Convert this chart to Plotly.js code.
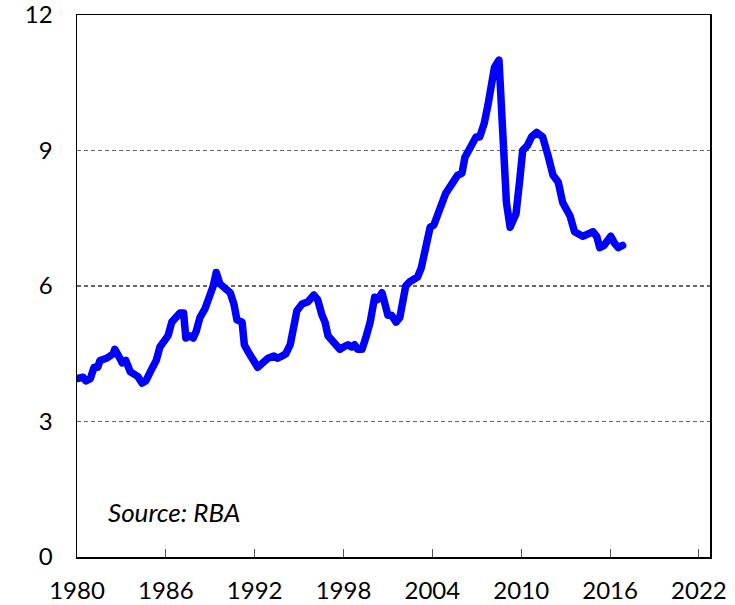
<!DOCTYPE html>
<html>
<head>
<meta charset="utf-8">
<script src="https://cdn.plot.ly/plotly-3.0.1.min.js"></script>
<style>html,body{margin:0;padding:0;background:#fff;}#chart{width:735px;height:605px;}
#chart .scatterlayer path.js-line{stroke-linejoin:round;stroke-linecap:round;}</style>
</head>
<body>
<div id="chart"></div>
<script>
var years = [1980.0,1980.4,1980.6,1980.9,1981.15,1981.4,1981.55,1982.0,1982.45,1982.55,1982.9,1983.05,1983.3,1983.6,1983.85,1984.1,1984.4,1984.65,1984.95,1985.35,1985.6,1985.9,1986.15,1986.4,1986.7,1986.95,1987.2,1987.35,1987.6,1987.85,1988.05,1988.3,1988.65,1988.9,1989.2,1989.4,1989.65,1990.0,1990.35,1990.6,1990.8,1991.15,1991.3,1991.55,1991.95,1992.2,1992.55,1992.9,1993.3,1993.55,1993.85,1994.1,1994.4,1994.65,1994.85,1995.2,1995.6,1996.0,1996.25,1996.55,1996.75,1996.95,1997.3,1997.55,1997.75,1998.0,1998.3,1998.55,1998.75,1998.95,1999.25,1999.5,1999.8,2000.1,2000.3,2000.6,2000.8,2001.0,2001.25,2001.55,2001.8,2002.0,2002.2,2002.5,2002.75,2003.0,2003.25,2003.5,2003.85,2004.1,2004.4,2004.65,2004.9,2005.2,2005.45,2005.7,2006.0,2006.2,2006.45,2006.75,2006.95,2007.2,2007.5,2007.75,2008.0,2008.2,2008.5,2008.75,2009.0,2009.25,2009.65,2009.9,2010.1,2010.4,2010.7,2011.05,2011.45,2011.8,2012.15,2012.5,2012.8,2013.3,2013.6,2014.15,2014.85,2015.1,2015.3,2015.6,2015.85,2016.05,2016.3,2016.55,2016.85];
var values = [3.95,3.98,3.9,3.95,4.2,4.2,4.35,4.4,4.5,4.6,4.4,4.3,4.35,4.1,4.05,4.0,3.85,3.9,4.1,4.35,4.65,4.8,4.9,5.2,5.3,5.4,5.4,4.85,4.9,4.85,5.0,5.3,5.5,5.7,6.0,6.3,6.05,5.95,5.85,5.6,5.25,5.2,4.7,4.55,4.3,4.2,4.3,4.4,4.45,4.4,4.45,4.5,4.7,5.1,5.45,5.6,5.65,5.8,5.7,5.35,5.2,4.9,4.75,4.65,4.6,4.65,4.7,4.65,4.7,4.6,4.6,4.85,5.2,5.75,5.7,5.85,5.55,5.35,5.35,5.2,5.3,5.8,6.0,6.1,6.15,6.2,6.4,6.8,7.3,7.35,7.65,7.8,8.05,8.2,8.3,8.45,8.5,8.85,9.0,9.15,9.3,9.3,9.6,10.0,10.5,10.85,11.0,9.0,7.85,7.3,7.6,8.35,9.0,9.1,9.3,9.4,9.3,8.9,8.45,8.3,7.85,7.55,7.2,7.1,7.2,7.1,6.85,6.9,7.05,7.1,6.95,6.85,6.9];
var xTicks = [1980,1986,1992,1998,2004,2010,2016,2022];
var yTicks = [0,3,6,9,12];
var sourceNote = "Source: RBA";

var FONT = "Lato, 'Open Sans', sans-serif";
var trace = {
  x: years, y: values, type: 'scatter', mode: 'lines',
  line: {color: '#0000FF', width: 7.5, shape: 'linear'},
  hoverinfo: 'skip'
};
var layout = {
  width: 735, height: 605,
  margin: {l: 77, r: 25, t: 15, b: 48},
  paper_bgcolor: '#ffffff', plot_bgcolor: '#ffffff',
  showlegend: false,
  font: {family: FONT, size: 24, color: '#000'},
  xaxis: {
    range: [1980, 2022.75], tickvals: xTicks, ticktext: xTicks.map(String),
    ticks: 'inside', ticklen: 8, tickwidth: 1, tickcolor: '#555',
    showgrid: false, zeroline: false,
    showline: true, linecolor: '#000', linewidth: 1.5, mirror: true,
    ticklabelstandoff: 12, ticklabeloverflow: 'allow',
    tickfont: {family: FONT, size: 24, color: '#000'}
  },
  yaxis: {
    range: [0, 12], tickvals: yTicks, ticktext: yTicks.map(String),
    ticks: 'outside', ticklen: 18, tickcolor: 'rgba(0,0,0,0)',
    showgrid: true, gridcolor: '#666666', gridwidth: 1.4, griddash: '4px,3px',
    zeroline: false, ticklabeloverflow: 'allow',
    showline: true, linecolor: '#000', linewidth: 1.5, mirror: true,
    tickfont: {family: FONT, size: 24, color: '#000'}
  },
  annotations: [{
    text: sourceNote, xref: 'paper', yref: 'paper', x: 0.046, y: 0.083,
    xanchor: 'left', yanchor: 'middle', showarrow: false,
    font: {family: FONT, size: 26, color: '#000', style: 'italic'}
  }]
};
Plotly.newPlot('chart', [trace], layout, {displayModeBar: false, staticPlot: true});
</script>
</body>
</html>
